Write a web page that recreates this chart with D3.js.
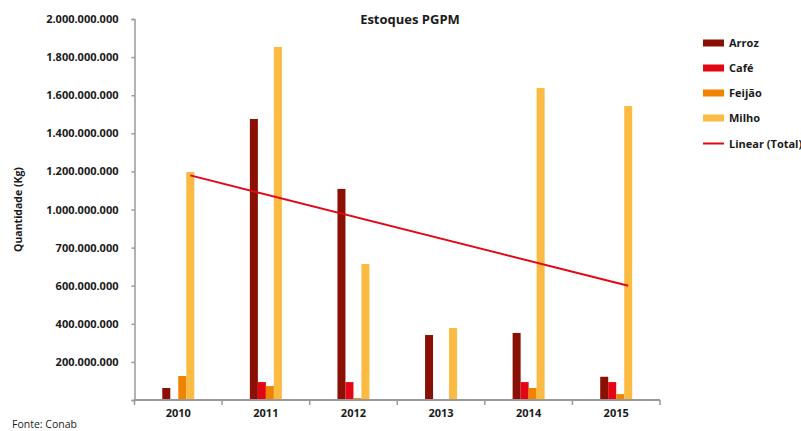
<!DOCTYPE html>
<html>
<head>
<meta charset="utf-8">
<script src="https://cdn.jsdelivr.net/npm/d3@7"></script>
<style>
  body { margin: 0; background: #fff; }
  text { font-family: "Open Sans", sans-serif; fill: #1a1a1a; }
</style>
</head>
<body>
<svg id="chart" width="801" height="431"></svg>
<script>
// data
var years = ['2010', '2011', '2012', '2013', '2014', '2015'];
var seriesNames = ['Arroz', 'Café', 'Feijão', 'Milho'];
var seriesColors = ['#8a1005', '#e30613', '#f08300', '#fbba42'];
var arroz  = [63e6, 1475e6, 1108e6, 341e6, 352e6, 122e6];
var cafe   = [0, 94e6, 94e6, 0, 94e6, 94e6];
var feijao = [126e6, 73e6, 10e6, 0, 63e6, 31e6];
var milho  = [1197e6, 1853e6, 714e6, 378e6, 1638e6, 1543e6];
var trend  = [{year: '2010', v: 1179e6}, {year: '2015', v: 600e6}];
var tickValues = [0, 200e6, 400e6, 600e6, 800e6, 1000e6, 1200e6, 1400e6, 1600e6, 1800e6, 2000e6];
var tickLabels = ['', '200.000.000', '400.000.000', '600.000.000', '700.000.000', '1.000.000.000',
                  '1.200.000.000', '1.400.000.000', '1.600.000.000', '1.800.000.000', '2.000.000.000'];

var values = [arroz, cafe, feijao, milho];
var svg = d3.select('#chart');
var margin = {left: 134.5, right: 141, top: 19, bottom: 31};
var width = 801 - margin.left - margin.right;
var height = 431 - margin.top - margin.bottom;

var g = svg.append('g')
    .attr('transform', 'translate(' + margin.left + ',' + margin.top + ')');

var x = d3.scaleBand().domain(years).range([0, width]);
var xs = d3.scaleBand().domain(seriesNames)
    .range([x.bandwidth() / 2 - 16, x.bandwidth() / 2 + 16]);
var y = d3.scaleLinear().domain([0, 2000e6]).range([height, 0]);

// bars
seriesNames.forEach(function(name, si) {
  g.append('g').selectAll('rect')
    .data(values[si])
    .enter().append('rect')
      .attr('x', function(d, i) { return x(years[i]) + xs(name); })
      .attr('y', function(d) { return y(d); })
      .attr('width', xs.bandwidth())
      .attr('height', function(d) { return y(0) - y(d); })
      .attr('fill', seriesColors[si]);
});

// trend line (Total)
var line = d3.line()
    .x(function(d) { return x(d.year) + x.bandwidth() / 2 + 12; })
    .y(function(d) { return y(d.v); });
g.append('path')
    .datum(trend)
    .attr('d', line)
    .attr('fill', 'none')
    .attr('stroke', '#e30613')
    .attr('stroke-width', 2);

// y axis
var yAxis = g.append('g')
    .call(d3.axisLeft(y).tickValues(tickValues).tickSize(3).tickPadding(13)
      .tickFormat(function(d, i) { return tickLabels[i]; }));
yAxis.select('.domain').attr('stroke', '#999').attr('stroke-width', 1.5);
yAxis.selectAll('.tick line').attr('stroke', '#999').attr('stroke-width', 1.5);
yAxis.selectAll('.tick text')
    .attr('font-family', '"Open Sans", sans-serif')
    .attr('font-size', 11).attr('font-weight', 'bold').attr('fill', '#1a1a1a');

// x axis with ticks on band edges
var xAxis = g.append('g').attr('transform', 'translate(0,' + height + ')');
xAxis.append('line')
    .attr('x1', 0).attr('x2', width)
    .attr('stroke', '#999').attr('stroke-width', 2);
xAxis.selectAll('.edge')
    .data(years.concat(['end']))
    .enter().append('line')
      .attr('class', 'edge')
      .attr('x1', function(d, i) { return i < years.length ? x(d) : width; })
      .attr('x2', function(d, i) { return i < years.length ? x(d) : width; })
      .attr('y1', 0).attr('y2', 5)
      .attr('stroke', '#999').attr('stroke-width', 1.5);
xAxis.selectAll('.lbl')
    .data(years)
    .enter().append('text')
      .attr('x', function(d) { return x(d) + x.bandwidth() / 2; })
      .attr('y', 17)
      .attr('text-anchor', 'middle')
      .attr('font-size', 11).attr('font-weight', 'bold')
      .text(function(d) { return d; });

// titles
svg.append('text')
    .attr('x', 410).attr('y', 24)
    .attr('text-anchor', 'middle')
    .attr('font-size', 13).attr('font-weight', 'bold')
    .text('Estoques PGPM');
svg.append('text')
    .attr('transform', 'translate(22,' + (margin.top + height / 2) + ') rotate(-90)')
    .attr('text-anchor', 'middle')
    .attr('font-size', 10.5).attr('font-weight', 'bold')
    .text('Quantidade (Kg)');
svg.append('text')
    .attr('x', 12).attr('y', 428)
    .attr('font-size', 10.5)
    .text('Fonte: Conab');

// legend
var legend = svg.append('g').attr('transform', 'translate(703,43)');
seriesNames.forEach(function(name, i) {
  legend.append('rect')
      .attr('x', 0).attr('y', i * 25 - 3.5)
      .attr('width', 21).attr('height', 7)
      .attr('fill', seriesColors[i]);
  legend.append('text')
      .attr('x', 26).attr('y', i * 25 + 4)
      .attr('font-size', 11).attr('font-weight', 'bold')
      .text(name);
});
legend.append('line')
    .attr('x1', 0).attr('x2', 21)
    .attr('y1', 100.5).attr('y2', 100.5)
    .attr('stroke', '#e30613').attr('stroke-width', 2);
legend.append('text')
    .attr('x', 26).attr('y', 104.5)
    .attr('font-size', 11).attr('font-weight', 'bold')
    .text('Linear (Total)');
</script>
</body>
</html>
